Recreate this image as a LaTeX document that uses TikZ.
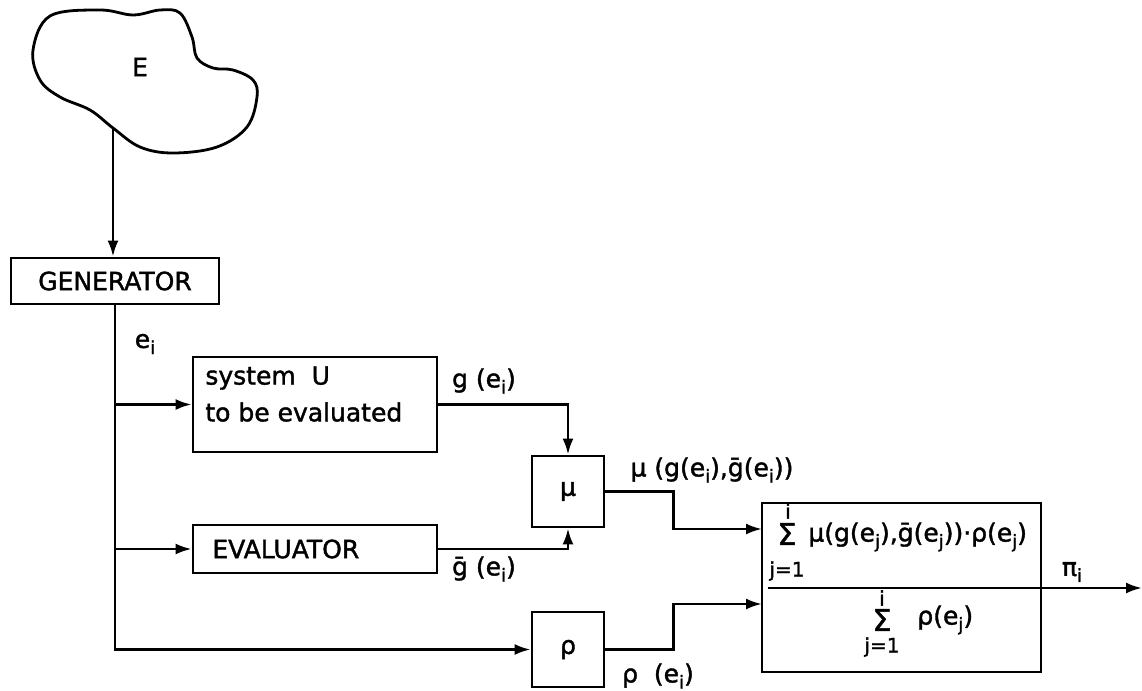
\documentclass[tikz,border=0pt]{standalone}
\usepackage{fontspec}
\setmainfont{DejaVu Sans}[FakeBold=1.5, AutoFakeBold=1.5]
\usetikzlibrary{arrows.meta}
\newcommand\sub[1]{\raisebox{-0.45ex}{\fontsize{9}{10}\selectfont #1}}
\newcommand\bigsum{\fontsize{15}{16}\selectfont Σ}
\tikzset{
  every node/.style={font=\fontsize{12.5}{15}\selectfont\bfseries, inner sep=0pt},
  box/.style={draw, line width=1.4pt},
  line/.style={line width=1.4pt},
  arr/.style={line width=1.3pt, -{Latex[length=8pt,width=5.5pt]}},
  small/.style={font=\fontsize{10}{11}\selectfont\bfseries},
}
\begin{document}
\begin{tikzpicture}[x=0.5pt,y=-0.5pt]
\useasboundingbox (0,0) rectangle (1142,691);
% cloud
\draw[line] plot[smooth cycle, tension=0.6] coordinates {
 (33,50) (50,16) (100,10) (133,15) (160,10) (180,13) (192,37) (197,58)
 (213,68) (233,70) (253,80) (257,97) (247,127) (217,147) (173,153)
 (140,147) (113,128) (90,110) (60,97) (40,80)};
\node (E) at (140,67) {E};
\coordinate (cb) at (113,128);
% boxes
\node[box, minimum width=104pt, minimum height=23pt] (gen) at (115,281) {};
\node (gent) at (115,281) {GENERATOR};
\node[box, minimum width=122pt, minimum height=47.5pt] (sys) at (315,404.5) {};
\node[anchor=west] (sys1) at (205,378) {system\ \ U};
\node[anchor=west] (sys2) at (205,412) {to be evaluated};
\node[box, minimum width=122pt, minimum height=24pt] (eval) at (315,549) {};
\node[anchor=west] (evalt) at (212,549) {EVALUATOR};
\node[box, minimum width=36pt, minimum height=35.5pt] (mu) at (568,491.5) {};
\node (mut) at (568,491.5) {μ};
\node[box, minimum width=36pt, minimum height=37.5pt] (rho) at (568,649.5) {};
\node (rhot) at (568,649.5) {ρ};
\node[box, minimum width=139.5pt, minimum height=84.5pt] (big) at (901.5,587.5) {};
% fraction contents
\node (s1) at (787,534) {\bigsum};
\node[small] (s1i) at (788,511) {i};
\node[small] (s1j) at (787,571) {j=1};
\node[anchor=west] (num) at (808,537) {μ(g(e\sub{j}),ḡ(e\sub{j}))·ρ(e\sub{j})};
\node (s2) at (882,620) {\bigsum};
\node[small] (s2i) at (882,598) {i};
\node[small] (s2j) at (882,647) {j=1};
\node[anchor=west] (den) at (917,620) {ρ(e\sub{j})};
\coordinate (fracL) at (768,588);
\coordinate (out) at (1142,588);
\draw[arr] (fracL) -- (out);
\node (pi) at (1072,572) {π\sub{i}};
% labels
\node (ei) at (145,344) {e\sub{i}};
\node (gl) at (484,381) {g (e\sub{i})};
\node (gbl) at (484,569) {ḡ (e\sub{i})};
\node (mul) at (712,470) {μ (g(e\sub{i}),ḡ(e\sub{i}))};
\node (rhol) at (658,676) {ρ\ \ (e\sub{i})};
% connectors
\draw[arr] (cb) -- (cb |- gen.north);
\draw[arr] (gen.south) |- (rho.west);
\draw[arr] (gen.south |- sys.west) -- (sys.west);
\draw[arr] (gen.south |- eval.west) -- (eval.west);
\draw[arr] (sys.east) -| (mu.north);
\draw[arr] (eval.east) -| (mu.south);
\coordinate (in1) at (762,529);
\coordinate (in2) at (762,604);
\draw[arr] (mu.east) -- ++(68,0) |- (in1);
\draw[arr] (rho.east) -- ++(68,0) |- (in2);
\end{tikzpicture}
\end{document}
